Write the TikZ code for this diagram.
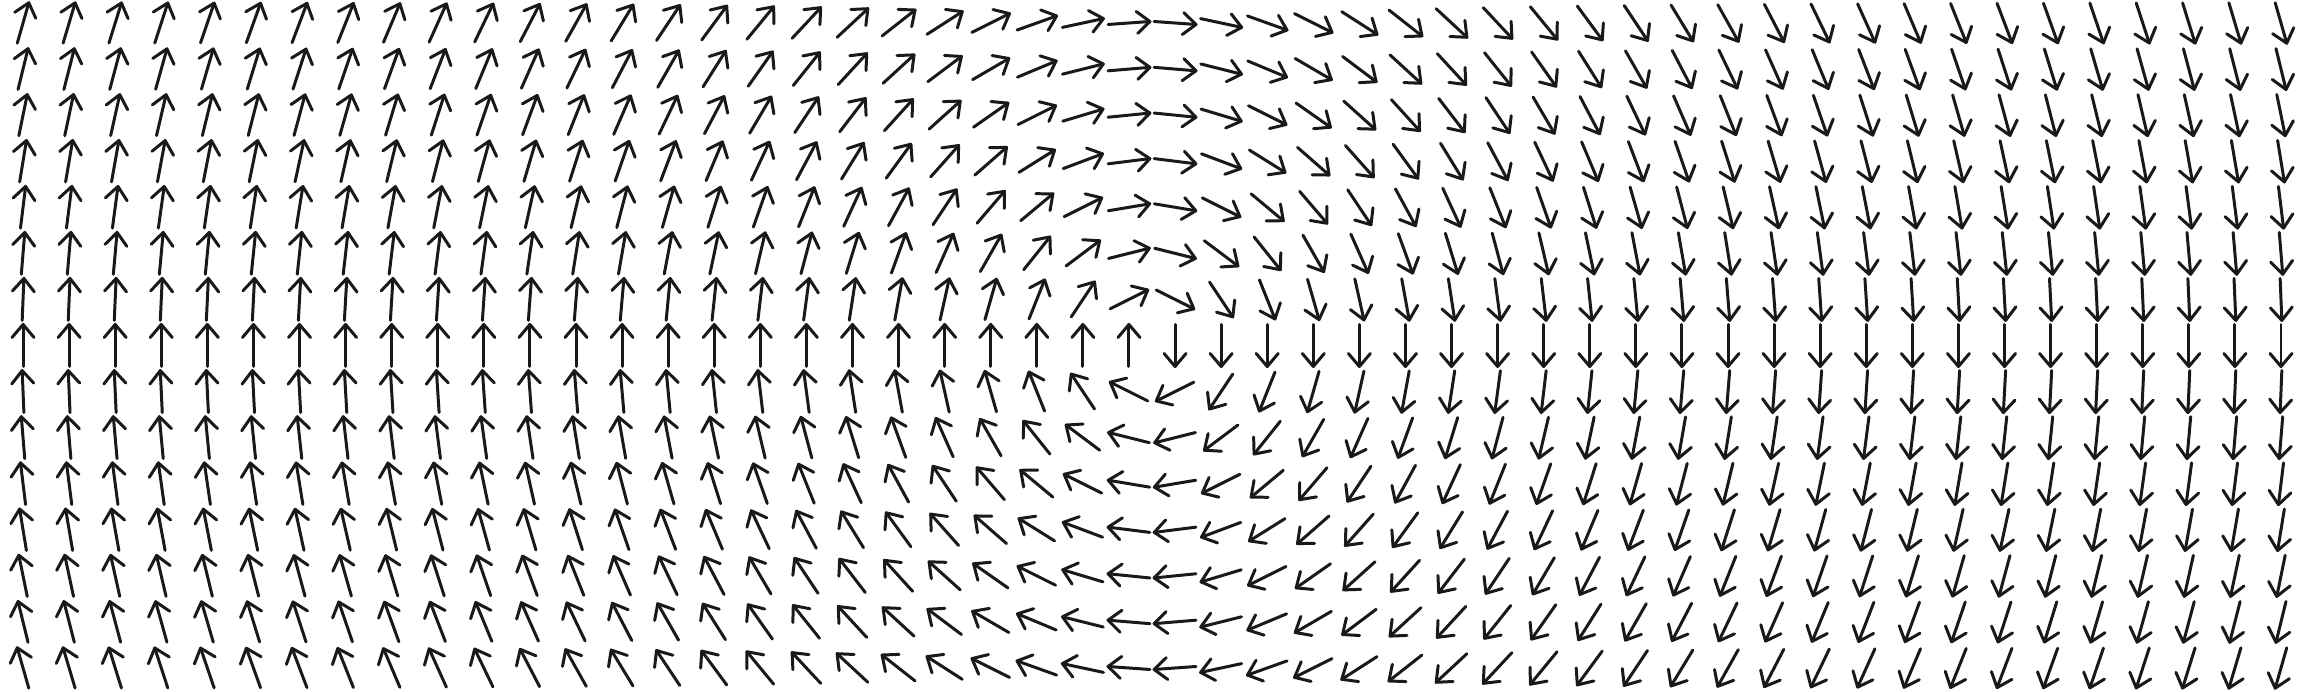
\documentclass[tikz,border=0pt]{standalone}
\begin{document}
\begin{tikzpicture}[x=0.01cm,y=0.01cm,
  fieldarrow/.style={line width=0.85pt, line cap=round, line join=round, black!90}]
\useasboundingbox (0,0) rectangle (2304,691);
\foreach \i in {0,...,49}{
  \foreach \j in {0,...,14}{
    \pgfmathsetmacro{\px}{(\i-24.5)*46.08}
    \pgfmathsetmacro{\py}{(\j-7)*46.07}
    \pgfmathsetmacro{\ang}{atan2(-\px,\py)}
    \begin{scope}[shift={(1152+\px,345.5+\py)}, rotate=\ang]
      \coordinate (tail) at (-21,0);
      \coordinate (tip) at (21,0);
      \coordinate (armL) at (8,11);
      \coordinate (armR) at (8,-11);
      \draw[fieldarrow] (tail) -- (tip);
      \draw[fieldarrow] (armL) -- (tip) -- (armR);
    \end{scope}
  }
}
\end{tikzpicture}
\end{document}
